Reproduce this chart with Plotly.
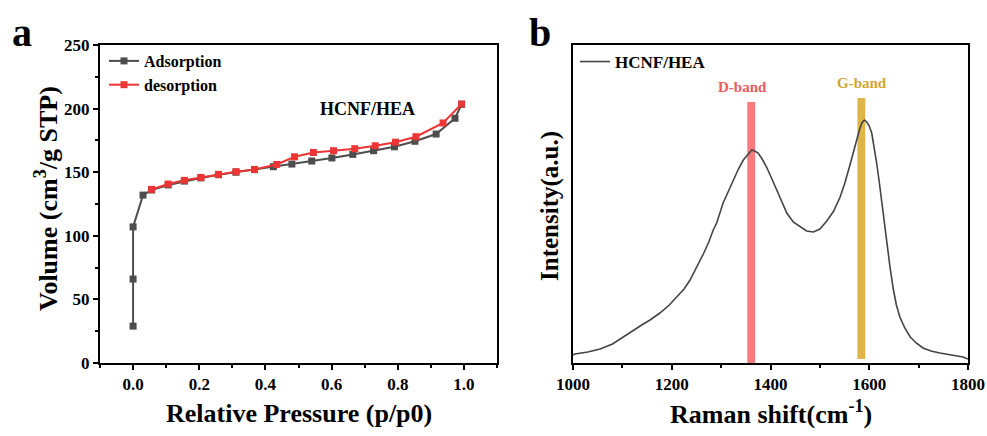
import plotly.graph_objects as go

# ---------------- Panel a: N2 isotherm ----------------
ads_p = [0.0, 0.0, 0.0, 0.03, 0.056, 0.106, 0.155, 0.205, 0.258, 0.311, 0.367,
         0.424, 0.48, 0.54, 0.601, 0.664, 0.727, 0.79, 0.852, 0.916, 0.973, 0.993]
ads_v = [29, 66, 107, 132, 136, 140, 143, 145.5, 148, 150, 152,
         154.3, 156.4, 158.8, 161.2, 164, 166.9, 170, 174.3, 180, 192.4, 203.4]
des_p = [0.056, 0.106, 0.155, 0.205, 0.258, 0.311, 0.367, 0.434, 0.488, 0.545,
         0.606, 0.67, 0.732, 0.793, 0.855, 0.937, 0.993]
des_v = [136.5, 140.7, 143.6, 145.9, 148.3, 150.4, 152.2, 156.1, 162.1, 165.5,
         166.9, 168.5, 170.8, 173.6, 177.9, 188.7, 203.6]

# ---------------- Panel b: Raman spectrum ----------------
raman_x = [1000, 1004, 1030, 1055, 1080, 1095, 1115, 1136, 1156, 1176, 1195, 1210,
           1225, 1237, 1250, 1264, 1275, 1284, 1291, 1304, 1315, 1325, 1335, 1345,
           1355, 1362, 1368, 1375, 1383, 1392, 1402, 1413, 1423, 1433, 1446, 1460,
           1473, 1487, 1500, 1514, 1528, 1541, 1550, 1561, 1568, 1575, 1580, 1585,
           1590, 1595, 1600, 1605, 1610, 1615, 1620, 1625, 1630, 1635, 1642, 1649,
           1655, 1662, 1672, 1683, 1695, 1709, 1725, 1743, 1765, 1790, 1800]
raman_y = [8, 9, 11, 14, 19, 24, 30, 37, 43, 50, 58, 66,
           74, 83, 95, 109, 121, 133, 140, 160, 172, 183, 194, 203,
           209, 213, 212, 210, 204, 196, 185, 173, 161, 150, 141, 136,
           132, 131, 134, 142, 152, 166, 179, 198, 212, 223, 233, 240,
           243, 241, 237, 230, 216, 200, 182, 163, 141, 120, 96, 73,
           58, 46, 35, 26, 20, 15, 12, 10, 8, 6, 4]
band_names = ["D-band", "G-band"]
band_centers = [1361, 1584]
band_base = [0, 4]
band_top = [261, 265]
band_colors = ["#F47C7C", "#DDB548"]
band_text_colors = ["#F05A5A", "#D4A530"]

W, H = 987, 436
FONT = "Liberation Serif"


def px(x):
    return x / W


def py(y):
    return 1 - y / H


fig = go.Figure()

fig.add_trace(go.Scatter(x=ads_p, y=ads_v, mode="lines+markers", name="Adsorption",
                         line=dict(color="#4D4D4D", width=2),
                         marker=dict(symbol="square", size=7, color="#4D4D4D"),
                         xaxis="x", yaxis="y", legend="legend"))
fig.add_trace(go.Scatter(x=des_p, y=des_v, mode="lines+markers", name="desorption",
                         line=dict(color="#EE3535", width=2),
                         marker=dict(symbol="square", size=7, color="#EE3535"),
                         xaxis="x", yaxis="y", legend="legend"))

for i in range(len(band_names)):
    fig.add_trace(go.Bar(x=[band_centers[i]], y=[band_top[i] - band_base[i]],
                         base=[band_base[i]], width=16,
                         marker=dict(color=band_colors[i], line=dict(width=0)),
                         showlegend=False, xaxis="x2", yaxis="y2"))

fig.add_trace(go.Scatter(x=raman_x, y=raman_y, mode="lines", name="HCNF/HEA",
                         line=dict(color="#444444", width=1.6),
                         xaxis="x2", yaxis="y2", legend="legend2"))

axis_common = dict(showline=True, linecolor="black", linewidth=2, mirror=True,
                   ticks="outside", ticklen=5, tickwidth=1.5, tickcolor="black",
                   showgrid=False, zeroline=False, automargin=False,
                   tickfont=dict(family=FONT, size=17, color="black", weight="bold"))

fig.update_layout(
    width=W, height=H,
    margin=dict(l=0, r=0, t=0, b=0, autoexpand=False),
    paper_bgcolor="white", plot_bgcolor="white",
    font=dict(family=FONT, color="black"),
    barmode="overlay",
    xaxis=dict(domain=[px(100), px(497)], range=[-0.1, 1.1],
               tickvals=[0, 0.2, 0.4, 0.6, 0.8, 1.0], tickformat=".1f",
               minor=dict(ticks="outside", ticklen=3, tickwidth=1.5, dtick=0.1, tick0=0,
                          tickcolor="black"),
               anchor="y", **axis_common),
    yaxis=dict(domain=[py(363), py(45)], range=[0, 250], dtick=50,
               minor=dict(ticks="outside", ticklen=3, tickwidth=1.5, dtick=25, tick0=0,
                          tickcolor="black"),
               anchor="x", **axis_common),
    xaxis2=dict(domain=[px(573), px(968)], range=[1000, 1800], dtick=200,
                minor=dict(ticks="outside", ticklen=3, tickwidth=1.5, dtick=100, tick0=0,
                           tickcolor="black"),
                anchor="y2", **axis_common),
    yaxis2=dict(domain=[py(363), py(45)], range=[0, 318], anchor="x2",
                showline=True, linecolor="black", linewidth=2, mirror=True, automargin=False,
                showticklabels=False, ticks="", showgrid=False, zeroline=False),
    legend=dict(x=px(104), y=py(44), xanchor="left", yanchor="top",
                bgcolor="rgba(0,0,0,0)", tracegroupgap=0, itemwidth=30,
                font=dict(family=FONT, size=16, color="black", weight="bold"),
                traceorder="normal"),
    legend2=dict(x=px(575), y=py(44), xanchor="left", yanchor="top",
                 bgcolor="rgba(0,0,0,0)", itemwidth=30,
                 font=dict(family=FONT, size=17, color="black", weight="bold")),
    showlegend=True,
)

annotations = [
    dict(text="<b>a</b>", x=px(10), y=py(32), xanchor="left", yanchor="middle",
         font=dict(size=40)),
    dict(text="<b>b</b>", x=px(527), y=py(32), xanchor="left", yanchor="middle",
         font=dict(size=40)),
    dict(text="<b>HCNF/HEA</b>", x=px(367), y=py(109), xanchor="center", yanchor="middle",
         font=dict(size=18)),
    dict(text="<b>Volume (cm<sup>3</sup>/g STP)</b>", x=px(46), y=py(199),
         xanchor="center", yanchor="middle", textangle=-90, font=dict(size=26)),
    dict(text="<b>Relative Pressure (p/p0)</b>", x=px(299), y=py(413),
         xanchor="center", yanchor="middle", font=dict(size=26)),
    dict(text="<b>Intensity(a.u.)</b>", x=px(550), y=py(206),
         xanchor="center", yanchor="middle", textangle=-90, font=dict(size=25)),
    dict(text="<b>Raman shift(cm<sup>-1</sup>)</b>", x=px(771), y=py(412),
         xanchor="center", yanchor="middle", font=dict(size=26)),
]
label_y = [py(87), py(83)]
label_x = [1344, 1585]
for i in range(len(band_names)):
    annotations.append(dict(text="<b>" + band_names[i] + "</b>", x=label_x[i], y=label_y[i],
                            xref="x2", yref="paper", xanchor="center", yanchor="middle",
                            showarrow=False, font=dict(size=15, color=band_text_colors[i])))
for a in annotations:
    a.setdefault("xref", "paper")
    a.setdefault("yref", "paper")
    a.setdefault("showarrow", False)
    a["font"].setdefault("family", FONT)
    a["font"].setdefault("color", "black")
fig.update_layout(annotations=annotations)

fig.write_html("out.html", config={"displayModeBar": False},
               post_script="document.body.style.margin='0';document.body.style.padding='0';")
